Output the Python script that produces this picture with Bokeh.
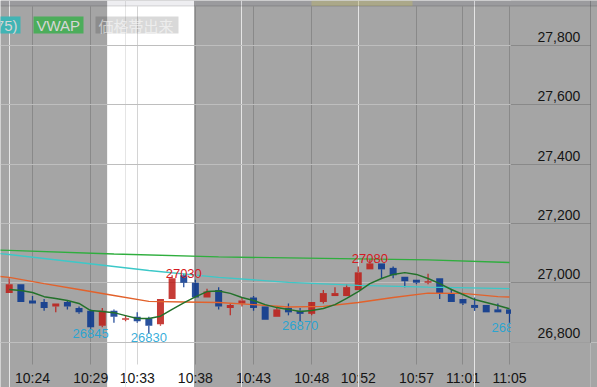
from bokeh.plotting import figure
from bokeh.models import (Range1d, LinearAxis, FixedTicker, Grid, BoxAnnotation, Label, Span,
                          NumeralTickFormatter, ColumnDataSource)
from bokeh.core.properties import value
from bokeh.embed import file_html
from bokeh.resources import INLINE

# ---------------- data ----------------
times = ["10:22", "10:23", "10:24", "10:25", "10:26", "10:27", "10:28", "10:29", "10:30", "10:31",
         "10:32", "10:33", "10:34", "10:35", "10:36", "10:37", "10:38", "10:39", "10:40", "10:41",
         "10:42", "10:43", "10:44", "10:45", "10:46", "10:47", "10:48", "10:49", "10:50", "10:51",
         "10:52", "10:53", "10:54", "10:55", "10:56", "10:57", "10:58", "10:59", "11:00", "11:01",
         "11:02", "11:03", "11:04", "11:05"]
opens = [26965, 26995, 26940, 26935, 26920, 26935, 26915, 26905, 26855, 26905,
         26875, 26885, 26880, 26860, 26945, 27025, 27000, 26950, 26975, 26915,
         26930, 26950, 26920, 26885, 26915, 26905, 26895, 26935, 26955, 26955,
         26975, 27045, 27065, 27050, 27020, 27010, 27000, 27015, 26965, 26945,
         26925, 26925, 26910, 26910]
highs = [27015, 26995, 26955, 26945, 26930, 26940, 26920, 26910, 26915, 26910,
         26890, 26900, 26885, 26945, 27025, 27030, 27010, 26980, 26985, 26930,
         26950, 26955, 26920, 26920, 26930, 26915, 26935, 26975, 26985, 26995,
         27055, 27080, 27065, 27055, 27020, 27010, 27030, 27015, 26980, 26945,
         26950, 26925, 26930, 26910]
lows = [26965, 26935, 26930, 26905, 26900, 26910, 26895, 26845, 26850, 26865,
        26870, 26865, 26830, 26855, 26945, 26985, 26950, 26950, 26910, 26890,
        26920, 26905, 26875, 26885, 26890, 26870, 26890, 26930, 26955, 26955,
        26975, 27045, 27015, 27015, 26985, 26995, 26995, 26945, 26935, 26925,
        26905, 26900, 26900, 26865]
closes = [26995, 26935, 26930, 26915, 26930, 26920, 26900, 26850, 26905, 26885,
          26880, 26870, 26855, 26945, 27015, 27000, 26950, 26970, 26920, 26925,
          26940, 26915, 26875, 26910, 26900, 26895, 26935, 26965, 26965, 26985,
          27035, 27065, 27045, 27025, 27005, 27000, 27005, 26965, 26935, 26930,
          26915, 26900, 26900, 26895]

# short moving average (dark green), one value per bar
ma_short = [26977, 26974, 26967, 26953, 26947, 26940, 26930, 26906, 26903, 26899,
            26889, 26879, 26879, 26887, 26910, 26932, 26952, 26970, 26972, 26964,
            26950, 26940, 26926, 26916, 26910, 26903, 26906, 26913, 26926, 26947,
            26970, 26997, 27014, 27028, 27034, 27028, 27014, 26997, 26977, 26960,
            26943, 26933, 26923, 26912]
# medium moving average (orange)
ma_mid_t = ["10:21", "10:22", "10:25", "10:28", "10:31", "10:34", "10:37", "10:40", "10:43",
            "10:46", "10:49", "10:52", "10:55", "10:58", "11:01", "11:04", "11:05"]
ma_mid = [27022, 27018, 26997, 26977, 26957, 26937, 26935, 26933, 26926,
          26918, 26920, 26933, 26950, 26965, 26964, 26953, 26952]
# (75) moving average (cyan)
ma75_t = ["10:21", "10:22", "10:28", "10:34", "10:40", "10:46", "10:52", "10:58", "11:05"]
ma75 = [27099, 27095, 27068, 27041, 27018, 27001, 26991, 26985, 26980]
# VWAP (green)
vwap_t = ["10:21", "10:22", "10:31", "10:40", "10:49", "10:58", "11:05"]
vwap = [27110, 27109, 27097, 27087, 27082, 27077, 27068]

high_label_t = ["10:37", "10:53"]
high_label_v = [27030, 27080]
low_label_t = ["10:29", "10:34", "10:47", "11:05"]
low_label_v = [26845, 26830, 26870, 26865]

tick_times = ["10:24", "10:29", "10:33", "10:38", "10:43", "10:48", "10:52", "10:57", "11:01", "11:05"]
price_ticks = [26800, 27000, 27200, 27400, 27600, 27800]
band = ("10:30:25", "10:37:53")

legend_texts = ["(75)", "VWAP", "価格帯出来"]

# ---------------- helpers ----------------
def t2i(t):
    parts = [int(s) for s in t.split(":")]
    h, m = parts[0], parts[1]
    s = parts[2] if len(parts) > 2 else 0
    return (h * 60 + m + s / 60.0) - (10 * 60 + 22)

W, H = 597, 387
PX_BAR = 11.634
X0 = 8.73
PX_UNIT = 0.2965
def xd(px):
    return (px - X0) / PX_BAR
def yd(py):
    return 26800 + (341.5 - py) / PX_UNIT

BG = "#a5a5a5"
RED = (188, 26, 20)
BLUE = (4, 50, 140)
def rgb(c):
    return "#%02x%02x%02x" % c

p = figure(width=W, height=H,
           x_range=Range1d(xd(0), xd(W)), y_range=Range1d(yd(H), yd(0)),
           output_backend="svg", toolbar_location=None,
           x_axis_location=None, y_axis_location=None, title=None,
           min_border=0, background_fill_color=BG, border_fill_color=BG,
           outline_line_color=None)

LABEL_OFF = 29
p.extra_y_ranges = {"lab": Range1d(yd(H) - LABEL_OFF, yd(0) - LABEL_OFF)}

# highlighted time band
p.add_layout(BoxAnnotation(left=t2i(band[0]), right=t2i(band[1]), fill_color="white",
                           fill_alpha=1.0, line_color=None, level="image"))

# horizontal grid
p.add_layout(Grid(dimension=1, ticker=FixedTicker(ticks=price_ticks), grid_line_color="black",
                  grid_line_alpha=0.17, level="underlay"))

tick_idx = [int(round(t2i(t))) for t in tick_times]
xaxis = LinearAxis(ticker=FixedTicker(ticks=tick_idx), fixed_location=price_ticks[0],
                   major_tick_in=336, major_tick_out=22,
                   major_tick_line_color="black", major_tick_line_alpha=0.17,
                   minor_tick_line_color=None,
                   axis_line_color="black", axis_line_alpha=0.22,
                   major_label_standoff=6,
                   major_label_text_font="Liberation Sans",
                   major_label_text_font_size="14px",
                   major_label_text_color="#151515",
                   major_label_overrides={i: t for i, t in zip(tick_idx, tick_times)},
                   level="underlay")
p.add_layout(xaxis, "below")

# candles
idx = list(range(len(times)))
up = [c >= o for o, c in zip(opens, closes)]
cols = [rgb(RED) if u else rgb(BLUE) for u in up]
body_top = [max(o, c) for o, c in zip(opens, closes)]
body_bot = [min(o, c) for o, c in zip(opens, closes)]
src = ColumnDataSource(dict(x=idx, h=highs, l=lows, bt=body_top, bb=body_bot, col=cols))
p.segment(x0="x", y0="bt", x1="x", y1="h", line_color="col", line_width=1.3, line_alpha=0.85, source=src)
p.segment(x0="x", y0="l", x1="x", y1="bb", line_color="col", line_width=1.3, line_alpha=0.85, source=src)
p.vbar(x="x", width=0.6, top="bt", bottom="bb", fill_color="col", fill_alpha=0.85,
       line_color=None, source=src)

# indicator lines
p.line([t2i(t) for t in vwap_t], vwap, line_color="#2fae3e", line_width=1.4)
p.line([t2i(t) for t in ma75_t], ma75, line_color="#3cc8c8", line_width=1.4)
p.line([t2i(t) for t in ma_mid_t], ma_mid, line_color="#e2622c", line_width=1.4)
p.line(idx, ma_short, line_color="#22712a", line_width=1.5)

# high / low labels
p.text(x=[t2i(t) for t in high_label_t], y=high_label_v, text=[str(v) for v in high_label_v],
       text_align="center", text_baseline="alphabetic", text_color="#d41a22",
       text_font=value("Liberation Sans"), text_font_size="13px")
p.text(x=[t2i(t) for t in low_label_t], y=low_label_v, text=[str(v) for v in low_label_v],
       text_align="center", text_baseline="top", text_color="#1aa4d6", text_alpha=0.9,
       text_font=value("Liberation Sans"), text_font_size="13px")

# right price panel (hides plot content beyond the chart edge, above the time axis)
p.add_layout(BoxAnnotation(left=xd(510.5), bottom=price_ticks[0], fill_color=BG, fill_alpha=1.0,
                           line_color=None, level="annotation"))
yaxis_lines = LinearAxis(ticker=FixedTicker(ticks=price_ticks), fixed_location=xd(510),
                         major_tick_out=80, major_tick_in=0,
                         major_tick_line_color="black", major_tick_line_alpha=0.17,
                         minor_tick_line_color=None, axis_line_color=None,
                         major_label_text_color=None, level="overlay")
p.add_layout(yaxis_lines, "right")
yaxis_labels = LinearAxis(y_range_name="lab", ticker=FixedTicker(ticks=price_ticks),
                          fixed_location=xd(510), major_tick_out=0, major_tick_in=0,
                          major_tick_line_color=None, minor_tick_line_color=None,
                          axis_line_color=None, major_label_standoff=27,
                          formatter=NumeralTickFormatter(format="0,0"),
                          major_label_text_font="Liberation Sans",
                          major_label_text_font_size="14px",
                          major_label_text_color="#151515", level="overlay")
p.add_layout(yaxis_labels, "right")
p.add_layout(Span(location=xd(590), dimension="height", line_color="black", line_alpha=0.2,
                  line_width=1, level="overlay"))

# top navigator strip
p.add_layout(BoxAnnotation(bottom=yd(5.5), fill_color="#202050", fill_alpha=0.08,
                           line_color=None, level="overlay"))
p.add_layout(BoxAnnotation(left=xd(311), right=xd(412), bottom=yd(5.5), fill_color="#c8c060",
                           fill_alpha=0.35, line_color=None, level="overlay"))
p.add_layout(Span(location=yd(5.5), dimension="width", line_color="black", line_alpha=0.15,
                  line_width=1, level="overlay"))

# legend chips (top-left)
chips = [(-30, 20, "#41b4b4", 1.0), (33, 83, "#4cad5b", 1.0), (95, 178, "black", 0.15)]
for (l, r, c, a) in chips:
    p.add_layout(BoxAnnotation(left=xd(l), right=xd(r), top=yd(16), bottom=yd(33),
                               fill_color=c, fill_alpha=a, line_color=None, level="overlay"))
p.add_layout(Label(x=xd(17), y=yd(25), text=legend_texts[0], text_align="right",
                   text_baseline="middle", text_font="Liberation Sans", text_font_size="15px",
                   text_color="#d6d6d6", level="overlay"))
p.add_layout(Label(x=xd(36), y=yd(25), text=legend_texts[1], text_align="left",
                   text_baseline="middle", text_font="Liberation Sans", text_font_size="15px",
                   text_color="#d6d6d6", level="overlay"))
p.add_layout(Label(x=xd(98), y=yd(25), text=legend_texts[2], text_align="left",
                   text_baseline="middle", text_font="Noto Sans CJK JP", text_font_size="15px",
                   text_color="white", text_alpha=0.55, level="overlay"))

open("out.html", "w").write(file_html(p, INLINE))
